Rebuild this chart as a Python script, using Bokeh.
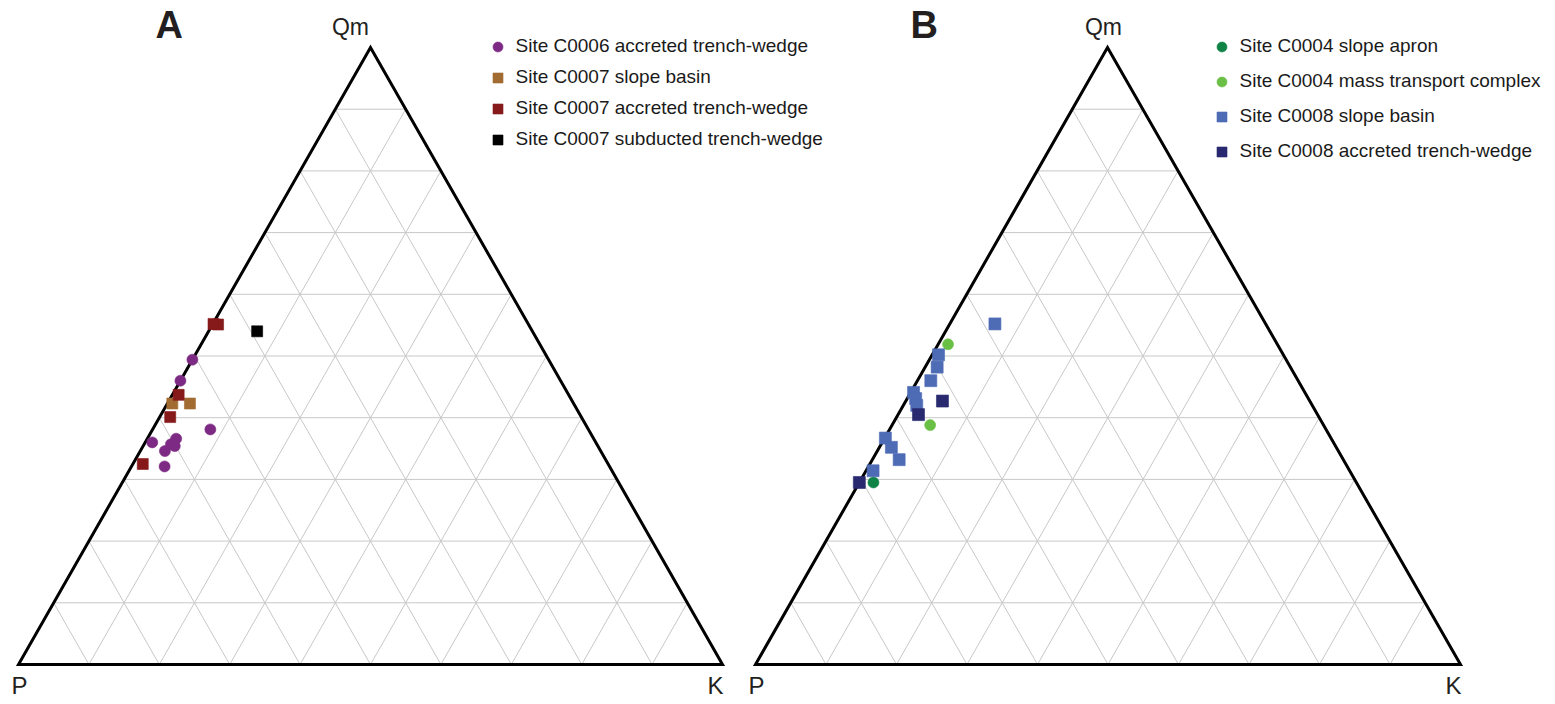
from bokeh.plotting import figure
from bokeh.models import Range1d, Legend, LegendItem, Label
from bokeh.embed import file_html
from bokeh.resources import INLINE

# ---------------- data (percent: Qm, K ; P = 100 - Qm - K) ----------------
a_c0006_acc_qm = [49.4, 46.0, 38.1, 36.0, 36.6, 35.7, 35.4, 34.6, 32.1]
a_c0006_acc_k = [0.0, 0.0, 8.2, 1.0, 4.1, 3.8, 4.5, 3.5, 4.7]
a_c0007_slope_qm = [42.3, 42.3]
a_c0007_slope_k = [0.7, 3.2]
a_c0007_acc_qm = [55.2, 55.1, 43.7, 40.1, 32.5]
a_c0007_acc_k = [0.1, 0.8, 0.9, 1.5, 1.4]
a_c0007_sub_qm = [54.0]
a_c0007_sub_k = [6.9]

b_c0004_apron_qm = [29.5]
b_c0004_apron_k = [2.0]
b_c0004_mtc_qm = [51.9, 38.8]
b_c0004_mtc_k = [1.4, 5.4]
b_c0008_slope_qm = [55.2, 50.2, 48.2, 46.0, 44.1, 43.1, 42.0, 36.7, 35.2, 33.2, 31.4]
b_c0008_slope_k = [6.4, 0.9, 1.7, 1.9, 0.4, 1.2, 1.9, 0.1, 1.7, 3.8, 1.0]
b_c0008_acc_qm = [42.7, 40.5, 29.5]
b_c0008_acc_k = [5.2, 2.9, 0.0]

grid_steps = [10, 20, 30, 40, 50, 60, 70, 80, 90]
vertex_labels = ["P", "K", "Qm"]
panel_letters = ["A", "B"]

FONT = "Liberation Sans"
W, H = 1555, 704

# triangle vertices (layout, screen px): P, K, Qm
TRI_A = ((18, 664), (722, 664), (370, 47))
TRI_B = ((755, 664), (1460, 664), (1107, 47))


def to_xy(qm, k, tri):
    (px, py), (kx, ky), (qx, qy) = tri
    xs, ys = [], []
    for q, kk in zip(qm, k):
        q /= 100.0
        kk /= 100.0
        xs.append(px + kk * (kx - px) + q * (qx - px))
        ys.append(py + kk * (ky - py) + q * (qy - py))
    return xs, ys


p = figure(width=W, height=H, output_backend="svg", toolbar_location=None,
           x_range=Range1d(0, W), y_range=Range1d(H, 0),
           min_border=0, outline_line_color=None)
p.axis.visible = False
p.grid.visible = False


def draw_panel(tri, series, legend_loc, legend_spacing, letter, letter_x, qm_cx):
    gxs, gys = [], []
    for s in grid_steps:
        # constant Qm
        x, y = to_xy([s, s], [0, 100 - s], tri); gxs.append(x); gys.append(y)
        # constant K
        x, y = to_xy([0, 100 - s], [s, s], tri); gxs.append(x); gys.append(y)
        # constant P
        x, y = to_xy([0, 100 - s], [100 - s, 0], tri); gxs.append(x); gys.append(y)
    p.multi_line(gxs, gys, line_color="#c8c8c8", line_width=1)

    ox, oy = to_xy([0, 0, 100], [0, 100, 0], tri)
    p.patch(ox, oy, fill_alpha=0, line_color="black", line_width=3, line_join="miter")

    items = []
    for name, qm, k, marker, color, size in series:
        x, y = to_xy(qm, k, tri)
        r = p.scatter(x, y, marker=marker, size=size, fill_color=color,
                      line_color=color, line_alpha=0.6, line_width=1)
        items.append(LegendItem(label=name, renderers=[r]))

    leg = Legend(items=items, location=legend_loc, padding=0, margin=0,
                 spacing=legend_spacing, glyph_width=25, glyph_height=25,
                 label_height=25, label_standoff=6,
                 label_text_font=FONT, label_text_font_size="19px",
                 label_text_color="#1a1a1a",
                 border_line_color=None, background_fill_alpha=0)
    p.add_layout(leg)

    (px, py), (kx, ky), (qx, qy) = tri
    p.add_layout(Label(x=letter_x, y=24, text=letter, text_font=FONT,
                       text_font_size="38px", text_font_style="bold",
                       text_color="#231f20", text_baseline="alphabetic"))
    p.add_layout(Label(x=qm_cx, y=26, text=vertex_labels[2], text_font=FONT,
                       text_font_size="23px", text_color="#231f20",
                       text_align="center", text_baseline="alphabetic"))
    p.add_layout(Label(x=px - 7, y=685, text=vertex_labels[0], text_font=FONT,
                       text_font_size="24px", text_color="#231f20",
                       text_align="left", text_baseline="alphabetic"))
    p.add_layout(Label(x=kx + 1, y=685, text=vertex_labels[1], text_font=FONT,
                       text_font_size="24px", text_color="#231f20",
                       text_align="right", text_baseline="alphabetic"))


series_a = [
    ("Site C0006 accreted trench-wedge", a_c0006_acc_qm, a_c0006_acc_k, "circle", "#7D2A84", 11),
    ("Site C0007 slope basin", a_c0007_slope_qm, a_c0007_slope_k, "square", "#A26B32", 11),
    ("Site C0007 accreted trench-wedge", a_c0007_acc_qm, a_c0007_acc_k, "square", "#861A1A", 11),
    ("Site C0007 subducted trench-wedge", a_c0007_sub_qm, a_c0007_sub_k, "square", "#000000", 11),
]
series_b = [
    ("Site C0004 slope apron", b_c0004_apron_qm, b_c0004_apron_k, "circle", "#0E8345", 11),
    ("Site C0004 mass transport complex", b_c0004_mtc_qm, b_c0004_mtc_k, "circle", "#6ABF45", 11),
    ("Site C0008 slope basin", b_c0008_slope_qm, b_c0008_slope_k, "square", "#4E6BB5", 12),
    ("Site C0008 accreted trench-wedge", b_c0008_acc_qm, b_c0008_acc_k, "square", "#28296E", 12),
]

draw_panel(TRI_A, series_a, (484.5, 552.5), 6, panel_letters[0], 155, 350)
draw_panel(TRI_B, series_b, (1208.5, 540.5), 10, panel_letters[1], 910, 1103)

open("out.html", "w").write(file_html(p, INLINE))
